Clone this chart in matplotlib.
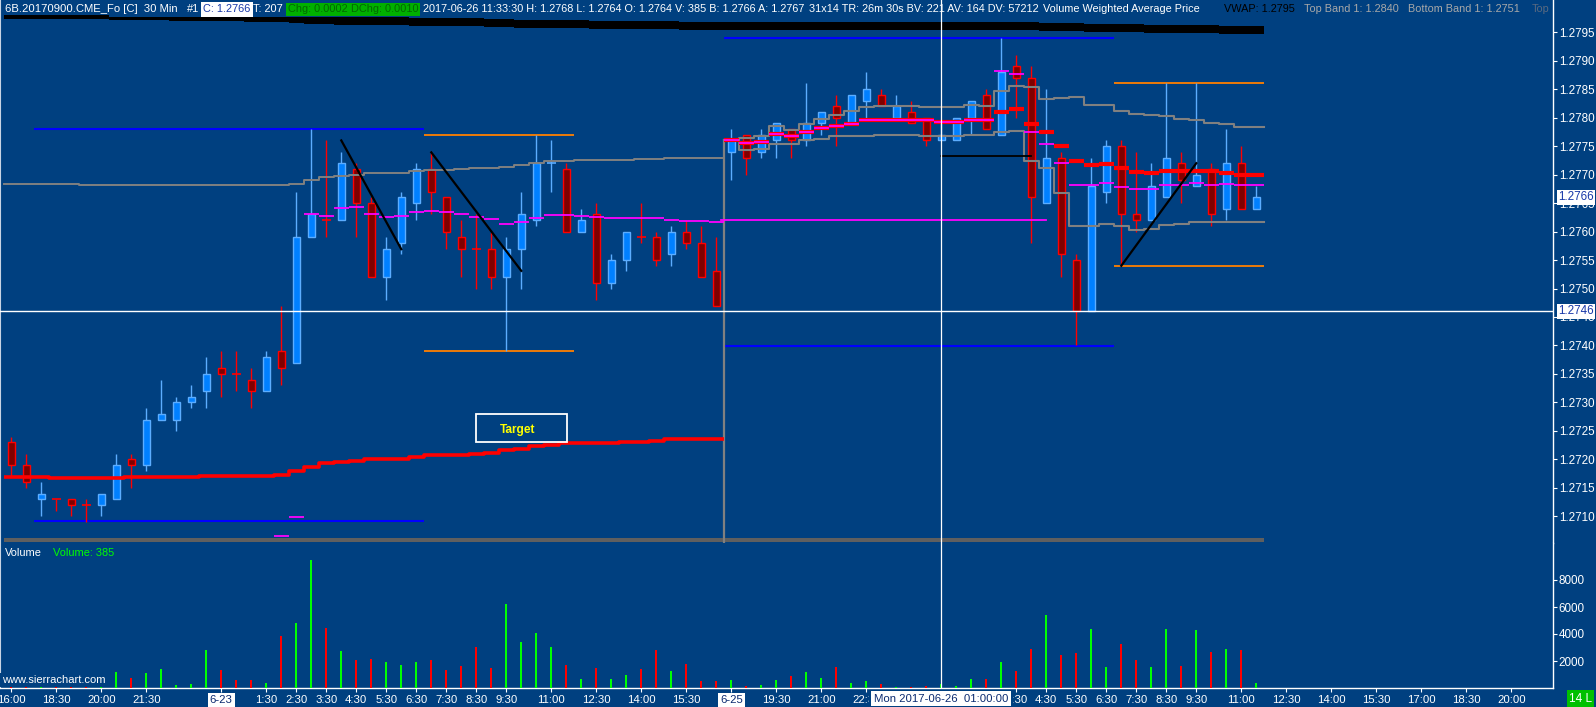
import numpy as np
import matplotlib
matplotlib.use("Agg")
import matplotlib.pyplot as plt
from matplotlib.patches import Rectangle
from matplotlib.transforms import blended_transform_factory, Bbox

plt.rcParams['font.family'] = ['Liberation Sans', 'DejaVu Sans']

# ---------------- data (30 min bars, index 0 = 6-22 16:00) ----------------
opens = [1.2723, 1.2719, 1.2713, 1.2713, 1.2713, 1.2712, 1.2712, 1.2713, 1.2720, 1.2719,
         1.2727, 1.2727, 1.2730, 1.2732, 1.2736, 1.2735, 1.2734, 1.2732, 1.2739, 1.2737,
         1.2759, 1.2762, 1.2762, 1.2771, 1.2765, 1.2752, 1.2758, 1.2765, 1.2771, 1.2766,
         1.2759, 1.2757, 1.2757, 1.2752, 1.2757, 1.2762, 1.2772, 1.2771, 1.2760, 1.2763,
         1.2751, 1.2755, 1.2759, 1.2759, 1.2756, 1.2760, 1.2758, 1.2753, 1.2774, 1.2777,
         1.2774, 1.2776, 1.2778, 1.2776, 1.2779, 1.2782, 1.2779, 1.2783, 1.2784, 1.2780,
         1.2781, 1.2780, 1.2776, 1.2776, 1.2780, 1.2784, 1.2777, 1.2789, 1.2787, 1.2765,
         1.2773, 1.2755, 1.2746, 1.2767, 1.2775, 1.2763, 1.2762, 1.2766, 1.2772, 1.2768,
         1.2771, 1.2764, 1.2772, 1.2764]
highs = [1.2724, 1.2721, 1.2716, 1.2713, 1.2713, 1.2713, 1.2714, 1.2721, 1.2721, 1.2729,
         1.2734, 1.2731, 1.2733, 1.2738, 1.2739, 1.2739, 1.2736, 1.2739, 1.2747, 1.2767,
         1.2778, 1.2776, 1.2774, 1.2772, 1.2766, 1.2759, 1.2767, 1.2772, 1.2774, 1.2766,
         1.2762, 1.2763, 1.2760, 1.2759, 1.2767, 1.2777, 1.2776, 1.2772, 1.2764, 1.2765,
         1.2756, 1.2760, 1.2765, 1.2760, 1.2761, 1.2762, 1.2761, 1.2759, 1.2778, 1.2777,
         1.2778, 1.2779, 1.2778, 1.2786, 1.2781, 1.2784, 1.2784, 1.2788, 1.2785, 1.2784,
         1.2783, 1.2780, 1.2779, 1.2780, 1.2783, 1.2785, 1.2794, 1.2791, 1.2789, 1.2785,
         1.2774, 1.2756, 1.2773, 1.2776, 1.2776, 1.2774, 1.2772, 1.2786, 1.2774, 1.2786,
         1.2772, 1.2778, 1.2775, 1.2768]
lows = [1.2717, 1.2715, 1.2710, 1.2711, 1.2710, 1.2709, 1.2710, 1.2713, 1.2715, 1.2718,
        1.2727, 1.2725, 1.2729, 1.2729, 1.2731, 1.2732, 1.2729, 1.2732, 1.2733, 1.2737,
        1.2759, 1.2759, 1.2762, 1.2759, 1.2752, 1.2748, 1.2756, 1.2762, 1.2763, 1.2757,
        1.2752, 1.2750, 1.2750, 1.2739, 1.2750, 1.2761, 1.2767, 1.2760, 1.2760, 1.2748,
        1.2750, 1.2753, 1.2758, 1.2754, 1.2754, 1.2757, 1.2752, 1.2747, 1.2769, 1.2770,
        1.2773, 1.2773, 1.2773, 1.2775, 1.2777, 1.2775, 1.2779, 1.2780, 1.2782, 1.2780,
        1.2779, 1.2775, 1.2776, 1.2776, 1.2777, 1.2778, 1.2777, 1.2780, 1.2758, 1.2765,
        1.2752, 1.2740, 1.2746, 1.2765, 1.2754, 1.2760, 1.2762, 1.2766, 1.2765, 1.2768,
        1.2761, 1.2762, 1.2764, 1.2764]
closes = [1.2719, 1.2716, 1.2714, 1.2713, 1.2712, 1.2712, 1.2714, 1.2719, 1.2719, 1.2727,
          1.2728, 1.2730, 1.2731, 1.2735, 1.2735, 1.2735, 1.2732, 1.2738, 1.2736, 1.2759,
          1.2763, 1.2762, 1.2772, 1.2765, 1.2752, 1.2757, 1.2766, 1.2771, 1.2767, 1.2760,
          1.2757, 1.2757, 1.2752, 1.2757, 1.2763, 1.2772, 1.2772, 1.2760, 1.2762, 1.2751,
          1.2755, 1.2760, 1.2759, 1.2755, 1.2760, 1.2758, 1.2752, 1.2747, 1.2776, 1.2773,
          1.2777, 1.2779, 1.2776, 1.2779, 1.2781, 1.2780, 1.2784, 1.2785, 1.2782, 1.2782,
          1.2779, 1.2776, 1.2777, 1.2780, 1.2783, 1.2778, 1.2788, 1.2787, 1.2766, 1.2773,
          1.2756, 1.2746, 1.2768, 1.2775, 1.2763, 1.2762, 1.2768, 1.2773, 1.2769, 1.2770,
          1.2763, 1.2772, 1.2764, 1.2766]
doji_up = [36]
volumes = [500, 350, 300, 250, 300, 200, 450, 1210, 760, 1130,
           1430, 250, 330, 2790, 1370, 610, 610, 380, 3830, 4830,
           9510, 4430, 2720, 2040, 2160, 1960, 1740, 1890, 2040, 1360,
           1660, 3070, 1510, 6190, 3400, 4080, 3020, 1740, 630, 1510,
           700, 980, 1390, 2790, 1280, 1810, 530, 530, 600, 150,
           200, 600, 910, 1210, 760, 1590, 380, 530, 330, 80,
           80, 180, 330, 180, 700, 700, 1960, 1280, 2880, 5440,
           2420, 2570, 4380, 1590, 3250, 2040, 1590, 4380, 1660, 4300,
           2640, 2870, 2790, 385]

x_tick_bars = [0, 3, 6, 9, 14, 17, 19, 21, 23, 25, 27, 29, 31, 33, 36, 39, 42, 45, 48, 51,
               54, 57, 67, 69, 71, 73, 75, 77, 79, 82, 85, 88, 91, 94, 97, 100]
x_tick_labels = ['16:00', '18:30', '20:00', '21:30', '6-23', '1:30', '2:30', '3:30', '4:30',
                 '5:30', '6:30', '7:30', '8:30', '9:30', '11:00', '12:30', '14:00', '15:30',
                 '6-25', '19:30', '21:00', '22:30', '3:30', '4:30',
                 '5:30', '6:30', '7:30', '8:30', '9:30', '11:00', '12:30', '14:00', '15:30',
                 '17:00', '18:30', '20:00']
date_labels = ['6-23', '6-25']
price_ticks = [1.2710, 1.2715, 1.2720, 1.2725, 1.2730, 1.2735, 1.2740, 1.2745, 1.2750,
               1.2755, 1.2760, 1.2765, 1.2770, 1.2775, 1.2780, 1.2785, 1.2790, 1.2795]
vol_ticks = [2000, 4000, 6000, 8000]

# studies
vwap_fri = [1.27169, 1.27169, 1.27169, 1.27167, 1.27167, 1.27167, 1.27167, 1.27167,
            1.27169, 1.27169, 1.27169, 1.27169, 1.27169, 1.27171, 1.27171, 1.27171,
            1.27171, 1.27171, 1.27173, 1.27179, 1.27187, 1.27193, 1.27196, 1.27198,
            1.27200, 1.27200, 1.27201, 1.27205, 1.27207, 1.27207, 1.27208, 1.27210,
            1.27212, 1.27217, 1.27219, 1.27224, 1.27226, 1.27228, 1.27228, 1.27229,
            1.27229, 1.27231, 1.27231, 1.27233, 1.27235, 1.27235, 1.27236, 1.27236]
band_fri = [1.27684, 1.27684, 1.27684, 1.27684, 1.27684, 1.27682, 1.27682, 1.27682,
            1.27682, 1.27681, 1.27681, 1.27681, 1.27681, 1.27681, 1.27681, 1.27681,
            1.27681, 1.27681, 1.27681, 1.27684, 1.27691, 1.27696, 1.27698, 1.27700,
            1.27702, 1.27702, 1.27703, 1.27707, 1.27708, 1.27708, 1.27710, 1.27712,
            1.27712, 1.27714, 1.27717, 1.27721, 1.27724, 1.27724, 1.27726, 1.27726,
            1.27726, 1.27726, 1.27727, 1.27727, 1.27729, 1.27729, 1.27729, 1.27729]
mag_fri = [1.27066, 1.27099, 1.27631, 1.27627, 1.27641, 1.27643, 1.27631, 1.27626,
           1.27627, 1.27634, 1.27636, 1.27634, 1.27631, 1.27626, 1.27622, 1.27613,
           1.27616, 1.27624, 1.27629, 1.27629, 1.27627, 1.27626, 1.27624, 1.27624,
           1.27624, 1.27624, 1.27620, 1.27619, 1.27619, 1.27617]          # bars 18..47
upper_sun = [1.27761, 1.27765, 1.27768, 1.27786, 1.27779, 1.27789, 1.27798, 1.27804,
             1.27811, 1.27819, 1.27821, 1.27821, 1.27821, 1.27819, 1.27819, 1.27819,
             1.27823, 1.27821, 1.27847, 1.27856, 1.27853, 1.27833, 1.27835, 1.27837,
             1.27823, 1.27823, 1.27812, 1.27807, 1.27804, 1.27802, 1.27798, 1.27795,
             1.27791, 1.27789, 1.27784, 1.27784]                              # bars 48..83
lower_sun = [1.27761, 1.27743, 1.27745, 1.27754, 1.27753, 1.27760, 1.27763, 1.27768,
             1.27768, 1.27768, 1.27770, 1.27770, 1.27770, 1.27768, 1.27768, 1.27768,
             1.27770, 1.27770, 1.27774, 1.27777, 1.27723, 1.27712, 1.27668, 1.27609,
             1.27610, 1.27614, 1.27609, 1.27603, 1.27605, 1.27612, 1.27614, 1.27617,
             1.27616, 1.27617, 1.27616, 1.27616]
red_sun = [1.27761, 1.27755, 1.27757, 1.27771, 1.27767, 1.27774, 1.27781, 1.27786,
           1.27789, 1.27795, 1.27795, 1.27795, 1.27795, 1.27795, 1.27792, 1.27792,
           1.27796, 1.27795, 1.27810, 1.27816, 1.27788, 1.27774, 1.27751, 1.27723,
           1.27716, 1.27718, 1.27711, 1.27705, 1.27703, 1.27707, 1.27707, 1.27707,
           1.27707, 1.27703, 1.27700, 1.27700]
mag_sun = [1.27761, 1.27755, 1.27757, 1.27771, 1.27767, 1.27774, 1.27781, 1.27786,
           1.27789, 1.27795, 1.27795, 1.27795, 1.27795, 1.27795, 1.27792, 1.27792,
           1.27796, 1.27795, 1.27881, 1.27877, 1.27775, 1.27754, 1.27721, 1.27681,
           1.27681, 1.27686, 1.27678, 1.27674, 1.27675, 1.27682, 1.27682, 1.27686,
           1.27682, 1.27684, 1.27682, 1.27682]
vwap_band_runs = [(0, 6, 1.27980, 1.27973), (7, 10, 1.27977, 1.27971), (11, 15, 1.27977, 1.27969),
                  (16, 18, 1.27977, 1.27968), (19, 19, 1.27976, 1.27966), (20, 21, 1.27976, 1.27964),
                  (22, 26, 1.27976, 1.27963), (27, 31, 1.27975, 1.27961), (32, 33, 1.27974, 1.27959),
                  (34, 38, 1.27972, 1.27957), (39, 44, 1.27970, 1.27956), (45, 68, 1.27968, 1.27954),
                  (69, 71, 1.27967, 1.27952), (72, 75, 1.27965, 1.27950), (76, 80, 1.27963, 1.27949),
                  (81, 83, 1.27961, 1.27947)]
low_band_level = 1.27059
prev_vwap_ext = (47.3, 69.0, 1.27621)

# chart drawings
blue_lines = [(1.5, 27.5, 1.27780), (1.5, 27.5, 1.27091), (47.5, 73.5, 1.27940), (47.5, 73.5, 1.27399)]
orange_lines = [(27.5, 37.5, 1.27770), (27.5, 37.5, 1.27391), (73.5, 83.5, 1.27861), (73.5, 83.5, 1.27540)]
trend_lines = [((22, 1.27760), (26, 1.27569)), ((28, 1.27739), (34, 1.27531)), ((74, 1.27540), (79, 1.27720))]
level_line = (62.0, 68.0, 1.27732)
session_break = (47.5, 1.27761)
crosshair = (62, 1.2746)
last_price = 1.2766

# ---------------- layout ----------------
BG = '#004080'
W, H = 1596, 707
AX_R = 1553
P_BOT, V_BOT = 543, 688
def price_at(ypx):
    return 1.2746 + (311.3 - ypx) / 56960.0
def y_of(p):
    return 311.3 - (p - 1.2746) * 56960.0
XLIM = ((0 - 11.3) / 15.0, (AX_R - 11.3) / 15.0)

fig = plt.figure(figsize=(W / 100, H / 100), dpi=100, facecolor=BG)
ax = fig.add_axes([0, 1 - P_BOT / H, AX_R / W, P_BOT / H], facecolor=BG)
axv = fig.add_axes([0, 1 - V_BOT / H, AX_R / W, (V_BOT - P_BOT) / H], facecolor=BG)

ax.set_xlim(*XLIM)
ax.set_ylim(price_at(P_BOT), price_at(0))
axv.set_xlim(*XLIM)
axv.set_ylim(0, (V_BOT - P_BOT) * 2000 / 27.0)

n = len(opens)
x = np.arange(n)

def step_xy(start, vals):
    edges = np.arange(start, start + len(vals) + 1) - 0.5
    return np.repeat(edges, 2)[1:-1], np.repeat(vals, 2)

# black VWAP band
tops = np.zeros(n); bots = np.zeros(n)
for a, b, t, bt in vwap_band_runs:
    tops[a:b + 1] = t
    bots[a:b + 1] = bt
xs, yt = step_xy(0, tops)
_, yb = step_xy(0, bots)
ax.fill_between(xs, yb, yt, color='black', lw=0, zorder=2)

# bottom dark gray band
ax.plot([-0.5, n - 0.5], [low_band_level, low_band_level], color='#5f5f5f', lw=2.9,
        solid_capstyle='butt', zorder=2)

# drawings: horizontal lines
for a, b, p in blue_lines:
    ax.plot([a, b], [p, p], color='#0000ff', lw=1.5, solid_capstyle='butt', zorder=2.5)
for a, b, p in orange_lines:
    ax.plot([a, b], [p, p], color='#ff8000', lw=1.3, solid_capstyle='butt', zorder=2.5)

# previous VWAP (red, Friday)
xs, ys = step_xy(0, vwap_fri)
ax.plot(xs, ys, color='#ff0000', lw=2.6, solid_capstyle='butt', zorder=4.6)

# candles
up_fill, up_edge = '#0080ff', '#5cadff'
dn_fill, dn_edge = '#800000', '#ff0000'
ups = []
for i in range(n):
    o, h, l, c = opens[i], highs[i], lows[i], closes[i]
    up = c > o or (c == o and i in doji_up)
    ups.append(up)
    wc = up_edge if up else dn_edge
    ax.vlines(i, l, h, color=wc, lw=1.0, zorder=3)
    if c == o:
        ax.hlines(o, i - 0.28, i + 0.28, color=wc, lw=1.2, zorder=4)
    else:
        ax.bar(i, abs(c - o), bottom=min(o, c), width=0.5,
               facecolor=up_fill if up else dn_fill,
               edgecolor=wc, lw=1.0, zorder=4)

# session bands (gray)
xs, ys = step_xy(0, band_fri)
ax.plot(xs, ys, color='#808080', lw=1.4, zorder=4.5)
xs, ys = step_xy(48, upper_sun)
ax.plot(xs, ys, color='#808080', lw=1.5, zorder=4.5)
xs, ys = step_xy(48, lower_sun)
ax.plot(xs, ys, color='#808080', lw=1.5, zorder=4.5)
ax.plot([session_break[0]] * 2, [price_at(P_BOT), session_break[1]], color='#808080',
        lw=1.6, zorder=4.5)

# red / magenta per-bar studies
sun_x = np.arange(48, 48 + len(red_sun))
ax.hlines(red_sun, sun_x - 0.5, sun_x + 0.5, color='#ff0000', lw=3.0, zorder=5)
ax.hlines(mag_sun, sun_x - 0.5, sun_x + 0.5, color='#ff00ff', lw=1.3, zorder=5.5)
fri_x = np.arange(18, 18 + len(mag_fri))
ax.hlines(mag_fri, fri_x - 0.5, fri_x + 0.5, color='#ff00ff', lw=1.3, zorder=5.5)
a, b, p = prev_vwap_ext
ax.plot([a, b], [p, p], color='#ff00ff', lw=1.3, zorder=5.5)

# trend lines
for (x1, y1), (x2, y2) in trend_lines:
    ax.plot([x1, x2], [y1, y2], color='black', lw=1.6, zorder=6)
a, b, p = level_line
ax.plot([a, b], [p, p], color='black', lw=1.3, zorder=6)

# target box
ax.add_patch(Rectangle((31.0, 1.27230), 6.03, 0.000492, facecolor='none',
                       edgecolor='white', lw=1.3, zorder=6))
ax.text(33.76, 1.272516, 'Target', color='#ffff00', fontsize=8.6, fontweight='bold',
        ha='center', va='center', zorder=6)

# crosshair
ax.axhline(crosshair[1], color='white', lw=1.0, zorder=7)
ax.axvline(crosshair[0], color='white', lw=0.9, zorder=7)
axv.axvline(crosshair[0], color='white', lw=0.9, zorder=7)

# volume
vcol = ['#00ff00' if u else '#ff0000' for u in ups]
axv.bar(x, volumes, width=0.15, color=vcol, lw=0, zorder=3)

# axes styling
for a_ in (ax, axv):
    for s in ('top', 'bottom'):
        a_.spines[s].set_visible(False)
    a_.spines['right'].set_color('white')
    a_.spines['right'].set_linewidth(1.0)
    a_.spines['left'].set_color('#c8d4e4')
    a_.spines['left'].set_linewidth(0.8)
    a_.yaxis.set_ticks_position('right')
    a_.tick_params(axis='y', colors='white', labelsize=8.4, length=3, width=0.8, pad=1.2)
axv.spines['bottom'].set_visible(True)
axv.spines['bottom'].set_color('white')
axv.spines['bottom'].set_linewidth(1.0)

ax.set_xticks([])
ax.set_yticks(price_ticks)
ax.set_yticklabels(['%.4f' % p for p in price_ticks])
axv.set_yticks(vol_ticks)
axv.set_yticklabels([str(v) for v in vol_ticks])

# price labels partly covered by the highlighted price boxes: show only the visible part
for p, t in zip(price_ticks, ax.get_yticklabels()):
    for hp in (last_price, crosshair[1]):
        if abs(p - (hp - 0.0001)) < 1e-7:
            cut = H - (y_of(hp) + 6.2)
            t.set_clip_box(Bbox.from_extents(0, 0, W, cut))
            t.set_clip_on(True)

axv.set_xticks(x_tick_bars)
axv.set_xticklabels(x_tick_labels)
axv.tick_params(axis='x', colors='white', labelsize=8.2, length=3, width=0.8, pad=2.0)
for bar_i, t in zip(x_tick_bars, axv.get_xticklabels()):
    if t.get_text() in date_labels:
        t.set_color('#0a2a70')
        t.set_bbox(dict(facecolor='white', edgecolor='none', pad=1.6))
    # labels partly covered by the crosshair time box
    if bar_i == 57:
        t.set_clip_box(Bbox.from_extents(0, 0, 869, H))
        t.set_clip_on(True)
    if bar_i == 67:
        t.set_clip_box(Bbox.from_extents(1013, 0, W, H))
        t.set_clip_on(True)

# last price / crosshair price labels on the right axis
tr = blended_transform_factory(ax.transAxes, ax.transData)
for p in (last_price, crosshair[1]):
    ax.text(1.0 + 5.0 / AX_R, p, '%.4f' % p, transform=tr, color='#1838a8', fontsize=8.4,
            ha='left', va='center', clip_on=False, zorder=10,
            bbox=dict(facecolor='white', edgecolor='none', pad=1.0))

# ---------------- header / overlay texts ----------------
def ftext(px, py, s, color='white', bg=None, size=7.9, pad=1.6, **kw):
    bbox = dict(facecolor=bg, edgecolor='none', pad=pad) if bg else None
    fig.text(px / W, 1 - py / H, s, color=color, fontsize=size, ha='left', va='center',
             bbox=bbox, **kw)

hy = 9.5
ftext(5, hy, '6B.20170900.CME_Fo [C]  30 Min', size=8.1)
ftext(187, hy, '#1')
ftext(203, hy, 'C: 1.2766', color='#1838a8', bg='white')
ftext(253, hy, 'T: 207')
ftext(288, hy, 'Chg: 0.0002', color='#006a00', bg='#00b000', pad=1.2)
ftext(351, hy, 'DChg: 0.0010', color='#006a00', bg='#00b000', pad=1.2)
ftext(423, hy, '2017-06-26 11:33:30 H: 1.2768 L: 1.2764 O: 1.2764 V: 385 B: 1.2766 A: 1.2767', size=7.8)
ftext(809, hy, '31x14 TR: 26m 30s BV: 221 AV: 164 DV: 57212', size=7.8)
ftext(1043, hy, 'Volume Weighted Average Price', size=7.8)
ftext(1224, hy, 'VWAP: 1.2795', color='black', size=7.8)
ftext(1304, hy, 'Top Band 1: 1.2840', color='#a8a8a8', size=7.8)
ftext(1408, hy, 'Bottom Band 1: 1.2751', color='#a8a8a8', size=7.8)
ftext(1532, hy, 'Top', color='#5a6a80', size=7.8)

ftext(5, 553, 'Volume')
ftext(53, 553, 'Volume: 385', color='#00ff00')
ftext(2, 680, 'www.sierrachart.com', bg=BG, size=8)

fig.text(941.3 / W, 1 - 698.5 / H, 'Mon 2017-06-26  01:00:00', color='#0a2a70', fontsize=8.2,
         ha='center', va='center', bbox=dict(facecolor='white', edgecolor='none', pad=2.0),
         zorder=10)
fig.text(1580.5 / W, 1 - 698.5 / H, '14 L', color='white', fontsize=8.5, ha='center',
         va='center', bbox=dict(facecolor='#00c000', edgecolor='none', pad=1.8), zorder=10)

fig.savefig('out.png', dpi=100, facecolor=BG)
